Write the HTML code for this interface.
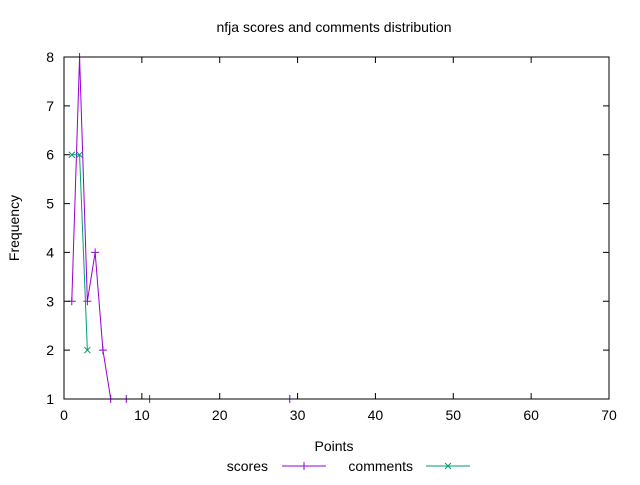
<!DOCTYPE html>
<html><head><meta charset="utf-8"><style>
body{margin:0;background:#fff;}
svg{font-family:"Liberation Sans",sans-serif;font-size:14px;}
</style></head><body>
<svg id="chart" width="640" height="480">
<rect width="640" height="480" fill="#fff"/>
<text x="334" y="32" text-anchor="middle">nfja scores and comments distribution</text>
<text transform="translate(19,228) rotate(-90)" text-anchor="middle">Frequency</text>
<text x="334" y="451" text-anchor="middle">Points</text>
<g id="series"></g>
<g id="axes"></g>
<g>
<text x="268" y="471" text-anchor="end">scores</text>
<line x1="282" y1="466" x2="326" y2="466" stroke="#9400d3"/>
<path d="M304 462v8" stroke="#9400d3"/>
<text x="413" y="471" text-anchor="end">comments</text>
<line x1="426" y1="466" x2="470" y2="466" stroke="#009e73"/>
<path d="M445 463l6 6M451 463l-6 6" stroke="#009e73"/>
</g>
</svg>
<script>
const xTicks=[0,10,20,30,40,50,60,70];
const yTicks=[1,2,3,4,5,6,7,8];
const scoresX=[1,2,3,4,5,6,8,11,29];
const scoresY=[3,8,3,4,2,1,1,1,1];
const commentsX=[1,2,3];
const commentsY=[6,6,2];
const L=64,R=609,T=57,B=399;
const sx=v=>L+(v-0)/(70-0)*(R-L);
const sy=v=>B-(v-1)/(8-1)*(B-T);
const NS="http://www.w3.org/2000/svg";
const ax=document.getElementById('axes');
function mk(tag,attrs,parent){const e=document.createElementNS(NS,tag);for(const k in attrs)e.setAttribute(k,attrs[k]);parent.appendChild(e);return e;}
const frame=mk('rect',{x:L,y:T,width:R-L,height:B-T,fill:'none',stroke:'#000'},ax);


xTicks.forEach(t=>{
 const p=mk('path',{d:`M${sx(t)} ${B}v-6M${sx(t)} ${T}v6`,stroke:'#000'},ax);
 
 
 const tx=mk('text',{x:sx(t),y:B+21,'text-anchor':'middle'},ax);tx.textContent=t;
 
 
});
yTicks.forEach(t=>{
 const p=mk('path',{d:`M${L} ${sy(t)}h6M${R} ${sy(t)}h-6`,stroke:'#000'},ax);
 
 
 const tx=mk('text',{x:L-10,y:sy(t)+5,'text-anchor':'end'},ax);tx.textContent=t;
 
 
});
const sg=document.getElementById('series');
function series(xs,ys,color,name,mark){
 const pts=xs.map((x,i)=>sx(x)+','+sy(ys[i])).join(' ');
 const pl=mk('polyline',{points:pts,fill:'none',stroke:color},sg);
 
 
 xs.forEach((x,i)=>{
  const X=sx(x),Y=sy(ys[i]);
  const d=mark==='plus'?`M${X-4} ${Y}h8M${X} ${Y-4}v8`:`M${X-3} ${Y-3}l6 6M${X+3} ${Y-3}l-6 6`;
  const m=mk('path',{d:d,stroke:color},sg);
  
  
 });
}
series(scoresX,scoresY,'#9400d3','scores','plus');
series(commentsX,commentsY,'#009e73','comments','x');
</script>
</body></html>
